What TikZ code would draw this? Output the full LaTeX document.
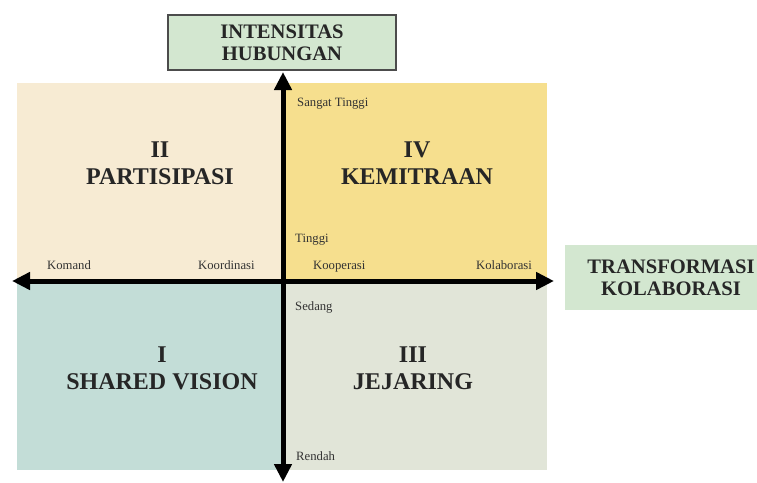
\documentclass[tikz,border=0pt]{standalone}
\usepackage{fontspec}
\setmainfont{Liberation Serif}
\usetikzlibrary{arrows.meta}
\definecolor{qcream}{HTML}{F7EBD3}
\definecolor{qyellow}{HTML}{F6DF8E}
\definecolor{qteal}{HTML}{C3DDD7}
\definecolor{qgrey}{HTML}{E1E5D8}
\definecolor{boxgreen}{HTML}{D3E7D0}
\tikzset{
  quad/.style={font=\fontsize{24}{27}\selectfont\bfseries, align=center, text=black!85},
  axislabel/.style={font=\fontsize{12.7}{14}\selectfont, text=black!80, anchor=base west, inner sep=0pt},
  titletext/.style={font=\fontsize{20.6}{22}\selectfont\bfseries, align=center, text=black!85},
  axis/.style={line width=5pt, black, {Triangle[length=18pt,width=17pt]}-{Triangle[length=18pt,width=17pt]}}
}
\begin{document}
\begin{tikzpicture}[x=1pt,y=-1pt]
\useasboundingbox[fill=white] (0,0) rectangle (757,482);
% quadrant fields
\fill[qcream]  (17,83)  rectangle (283,281);
\fill[qyellow] (283,83) rectangle (547,281);
\fill[qteal]   (17,281) rectangle (283,470);
\fill[qgrey]   (283,281) rectangle (547,470);
% axis end points
\coordinate (ytop) at (283,72);
\coordinate (ybot) at (283,482);
\coordinate (xleft) at (12,281);
\coordinate (xright) at (554,281);
\draw[axis] (ybot) -- (ytop);
\draw[axis] (xleft) -- (xright);
% axis titles
\node[titletext, fill=boxgreen, draw=black!70, line width=1.2pt, minimum width=228pt, minimum height=55pt] (ytitle) at (282,42.5) {INTENSITAS\\HUBUNGAN};
\fill[boxgreen] (565,245) rectangle (757,310);
\node[titletext] (xtitle) at (671,277.5) {TRANSFORMASI\\KOLABORASI};
% quadrant names
\node[quad] (q2) at (160,163) {II\\PARTISIPASI};
\node[quad] (q4) at (417,163) {IV\\KEMITRAAN};
\node[quad] (q1) at (162,368) {I\\SHARED VISION};
\node[quad] (q3) at (413,368) {III\\JEJARING};
% scale labels
\node[axislabel] (l1) at (297,106) {Sangat Tinggi};
\node[axislabel] (l2) at (295,242) {Tinggi};
\node[axislabel] (l3) at (295,310) {Sedang};
\node[axislabel] (l4) at (296,460) {Rendah};
\node[axislabel] (h1) at (47,269) {Komand};
\node[axislabel] (h2) at (198,269) {Koordinasi};
\node[axislabel] (h3) at (313,269) {Kooperasi};
\node[axislabel] (h4) at (476,269) {Kolaborasi};
\end{tikzpicture}
\end{document}
